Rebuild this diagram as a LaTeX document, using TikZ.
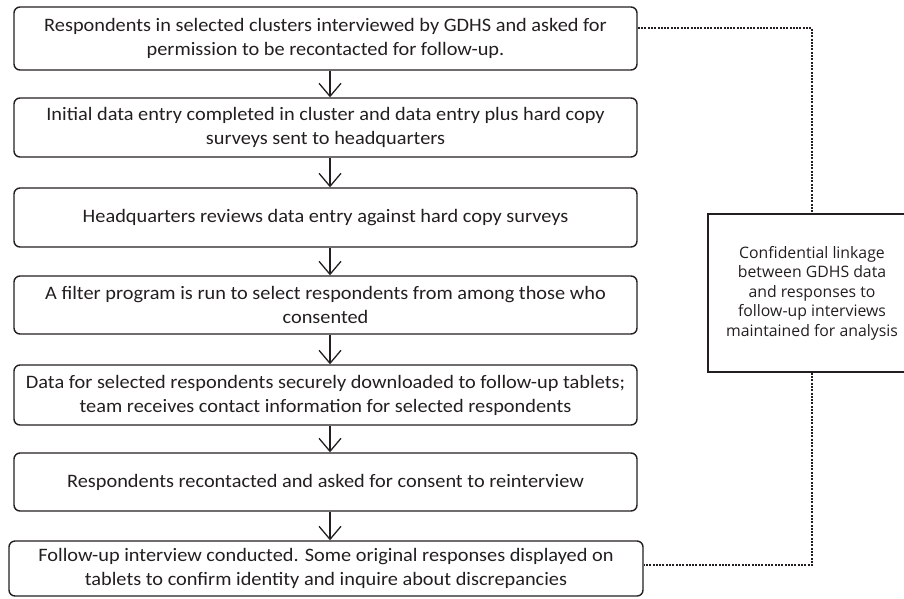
\documentclass[tikz,border=0pt]{standalone}
\usepackage{fontspec}
\setmainfont{Carlito}[FakeStretch=1.07]
\newfontfamily\conffont{Open Sans}
\usetikzlibrary{arrows.meta,calc}
\definecolor{ink}{RGB}{35,31,32}
\begin{document}
\begin{tikzpicture}[x=1pt,y=-1pt,
  stepbox/.style={draw=ink, line width=1.4pt, rounded corners=6pt, align=center,
    inner sep=0pt, text=ink, font=\fontsize{19}{24}\selectfont},
  confbox/.style={draw=ink, line width=1.4pt, align=center, inner sep=0pt,
    text=ink, font=\conffont\fontsize{15.8}{19.5}\selectfont},
  flow/.style={draw=ink, line width=1.3pt, -{Straight Barb[length=13pt,width=22pt]}},
  link/.style={draw=ink, line width=2.4pt, dash pattern=on 2pt off 1.3pt}]
\useasboundingbox (0,0) rectangle (904,598);
\node[stepbox, minimum width=623pt, minimum height=63pt] (b1) at (325.5,38.5)
  {Respondents in selected clusters interviewed by GDHS and asked for\\permission to be recontacted for follow-up.};
\node[stepbox, minimum width=623pt, minimum height=59pt] (b2) at (325.5,127.5)
  {Initial data entry completed in cluster and data entry plus hard copy\\surveys sent to headquarters};
\node[stepbox, minimum width=623pt, minimum height=59pt] (b3) at (325.5,217.5)
  {Headquarters reviews data entry against hard copy surveys};
\node[stepbox, minimum width=623pt, minimum height=58pt] (b4) at (325.5,305)
  {A filter program is run to select respondents from among those who\\consented};
\node[stepbox, minimum width=623pt, minimum height=60pt] (b5) at (325.5,395)
  {Data for selected respondents securely downloaded to follow-up tablets;\\team receives contact information for selected respondents};
\node[stepbox, minimum width=623pt, minimum height=58pt] (b6) at (325.5,482)
  {Respondents recontacted and asked for consent to reinterview};
\node[stepbox, minimum width=634pt, minimum height=55pt] (b7) at (326,568.5)
  {Follow-up interview conducted. Some original responses displayed on\\tablets to confirm identity and inquire about discrepancies};
\node[confbox, minimum width=208pt, minimum height=158pt] (conf) at (812,293)
  {Confidential linkage\\between GDHS data\\and responses to\\follow-up interviews\\maintained for analysis};
\coordinate (ax) at (330,0);
\foreach \a/\b in {b1/b2,b2/b3,b3/b4,b4/b5,b5/b6,b6/b7}
  \draw[flow] (\a.south -| ax) -- (\b.north -| ax);
\coordinate (top) at (0,28);
\coordinate (bot) at (0,565);
\draw[link] (b1.east |- top) -| (conf.north);
\draw[link] (conf.south) |- (b7.east |- bot);
\end{tikzpicture}
\end{document}
